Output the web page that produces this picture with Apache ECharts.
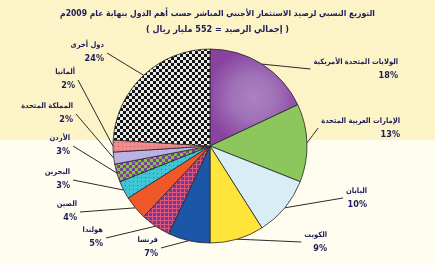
<!DOCTYPE html>
<html><head><meta charset="utf-8">
<script src="https://cdn.jsdelivr.net/npm/echarts@6/dist/echarts.min.js"></script>
<style>html,body{margin:0;padding:0;background:#fffdf0;}#c{width:435px;height:265px;}</style>
</head><body><div id="c"></div>
<script>
// ---- data ----
const titleMain = 'التوزيع النسبي لرصيد الاستثمار الأجنبي المباشر حسب أهم الدول بنهاية عام 2009م';
const titleSub = '( إجمالي الرصيد = 552 مليار ريال )';
const categories = ['الولايات المتحدة الأمريكية','الإمارات العربية المتحدة','اليابان','الكويت','فرنسا','هولندا','الصين','البحرين','الأردن','المملكة المتحدة','ألمانيا','دول أخرى'];
const shares = [18, 13, 10, 9, 7, 5, 4, 3, 3, 2, 2, 24];

// ---- layout (label anchors: [right edge x, middle y]) ----
const labelAnchors = [[398,69],[400,128],[367,198],[327,242],[158,247],[103,237],[77,211],[70,179],[70,145],[73,113],[75,79],[104,52]];
const FONT = "'DejaVu Sans Condensed', 'DejaVu Sans'";

function pattern(size, bg, fg, cells) {
  const c = document.createElement('canvas');
  c.width = c.height = size;
  const g = c.getContext('2d');
  g.fillStyle = bg; g.fillRect(0,0,size,size);
  g.fillStyle = fg;
  cells.forEach(r => g.fillRect(r[0], r[1], r[2], r[3]));
  return {image: c, repeat: 'repeat'};
}
const fills = [
  {type:'radial', x:0.5, y:0.5, r:0.55, colorStops:[{offset:0,color:'#ab80c4'},{offset:0.45,color:'#a072b8'},{offset:1,color:'#8a42a0'}]},
  '#8cc65c',
  '#d8edf6',
  '#ffe53a',
  '#1c56a7',
  pattern(4, '#6e3c9c', '#d9587c', [[0,0,4,1],[0,0,1,4]]),
  '#f0582a',
  pattern(4, '#3fc6d6', '#2f7d92', [[1,1,1,1]]),
  pattern(6, '#86c440', '#7b3f9e', [[0,0,3,3],[3,3,3,3]]),
  '#b9b2e2',
  pattern(4, '#f28c8c', '#b95a6c', [[2,2,1,1]]),
  pattern(6, '#e8e8e8', '#151515', [[0,0,3,3],[3,3,3,3]])
];

const chart = echarts.init(document.getElementById('c'), null, {renderer:'canvas'});
chart.setOption({
  backgroundColor: {type:'linear', x:0, y:0, x2:0, y2:1, colorStops:[
    {offset:0, color:'#fcf4c6'}, {offset:0.528, color:'#fcf4c6'},
    {offset:0.528, color:'#fffdf0'}, {offset:1, color:'#fffdf0'}]},
  title: {
    text: titleMain, subtext: titleSub, left: 'center', top: 4, itemGap: 7,
    textStyle: {fontFamily:FONT, fontWeight:'bold', fontSize:8.5, color:'#1c1c5a'},
    subtextStyle: {fontFamily:FONT, fontWeight:'bold', fontSize:9, color:'#1c1c5a'}
  },
  series: [{
    type: 'pie',
    center: [210, 146],
    radius: 97,
    startAngle: 90,
    clockwise: true,
    avoidLabelOverlap: false,
    animation: false,
    data: categories.map((n, i) => ({name: n, value: shares[i], itemStyle: {color: fills[i]}})),
    itemStyle: {borderColor: '#262626', borderWidth: 0.8},
    label: {
      show: true, position: 'outside', overflow: 'none',
      formatter: p => '{n|' + p.name + '}\n{p|' + p.value + '%}',
      fontFamily: FONT, fontWeight: 'bold', color: '#1c1c5a', align: 'right',
      rich: {
        n: {fontFamily:FONT, fontWeight:'bold', fontSize: 7.5, lineHeight: 13, color:'#1c1c5a', align:'right'},
        p: {fontFamily:FONT, fontWeight:'bold', fontSize: 9, lineHeight: 14, color:'#1c1c5a', align:'right'}
      }
    },
    labelLine: {show: true, length: 10, length2: 10, lineStyle: {color: '#2a2a2a', width: 1}},
    labelLayout: function (params) {
      const a = labelAnchors[params.dataIndex];
      const w = params.labelRect.width;
      const start = params.labelLinePoints ? params.labelLinePoints[0] : [210,146];
      const rightSide = params.dataIndex < 4;
      const end = rightSide ? [a[0] - w - 3, a[1]] : [a[0] + 3, a[1] + 1];
      const mid = [(start[0] + end[0]) / 2, (start[1] + end[1]) / 2];
      return {x: a[0], y: a[1], align: 'right', verticalAlign: 'middle', labelLinePoints: [start, mid, end]};
    }
  }]
});
</script>
</body></html>
